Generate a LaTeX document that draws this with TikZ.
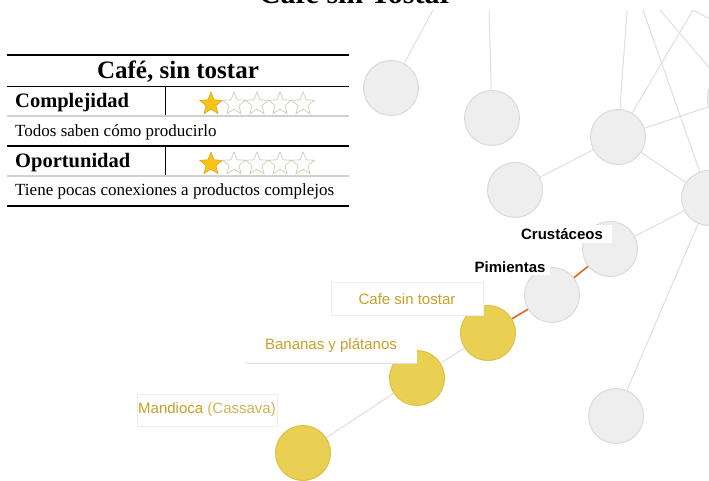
\documentclass[tikz,border=0pt]{standalone}
\usepackage{fontspec}
\setmainfont{Liberation Serif}
\newfontfamily\labelfont{Liberation Sans}
\usetikzlibrary{shapes.geometric}
\definecolor{nodegray}{RGB}{238,238,238}
\definecolor{nodeedge}{RGB}{218,218,218}
\definecolor{linkgray}{RGB}{222,222,222}
\definecolor{prodyellow}{RGB}{233,207,82}
\definecolor{prodedge}{RGB}{222,192,70}
\definecolor{labelgold}{RGB}{200,160,40}
\definecolor{pathorange}{RGB}{226,100,30}
\definecolor{stargold}{RGB}{250,195,20}
\definecolor{staredge}{RGB}{212,206,188}

\begin{document}
\begin{tikzpicture}[x=1pt,y=-1pt,
  gnode/.style={circle,draw=nodeedge,fill=nodegray,line width=1pt,minimum size=55pt,inner sep=0pt},
  ynode/.style={circle,draw=prodedge,fill=prodyellow,line width=1pt,minimum size=55pt,inner sep=0pt},
  link/.style={draw=linkgray,line width=1pt},
  hot/.style={draw=pathorange,line width=1.6pt},
  namebox/.style={fill=white,inner sep=0pt,font=\labelfont\bfseries\fontsize{15}{15}\selectfont},
  prodbox/.style={fill=white,draw=black!7,inner sep=0pt,text=labelgold,font=\labelfont\fontsize{15}{15}\selectfont},
  hardrule/.style={line width=1.5pt},
  softrule/.style={draw=black!18,line width=2pt},
  fullstar/.style={star,star points=5,star point ratio=2.3,fill=stargold,draw=stargold!80!black,minimum size=24pt,inner sep=0pt},
  emptystar/.style={star,star points=5,star point ratio=2.3,draw=staredge,line width=0.8pt,minimum size=24pt,inner sep=0pt}]
    \clip (0,0) rectangle (709,481);

    % Title (cut at the top)
    \node[anchor=base,inner sep=0pt,font=\bfseries\fontsize{30}{30}\selectfont] (title) at (356,4) {Cafe sin Tostar};

    % Info table
    \draw[hardrule] (7,55) -- (349,55);
    \node[anchor=base,inner sep=0pt,font=\bfseries\fontsize{25}{25}\selectfont] (tabhead) at (178,79) {Café, sin tostar};
    \draw[line width=0.8pt] (7,86) -- (349,86);
    \node[anchor=base west,inner sep=0pt,font=\bfseries\fontsize{20.5}{20.5}\selectfont] (cplx) at (15,108) {Complejidad};
    \draw[line width=0.8pt] (165,86) -- (165,116);
    \draw[softrule] (7,116) -- (349,116);
    \node[anchor=base west,inner sep=0pt,font=\fontsize{17}{17}\selectfont] (cplxtxt) at (15,137) {Todos saben cómo producirlo};
    \draw[hardrule] (7,146) -- (349,146);
    \node[anchor=base west,inner sep=0pt,font=\bfseries\fontsize{20.5}{20.5}\selectfont] (oppo) at (15,168) {Oportunidad};
    \draw[line width=0.8pt] (165,146) -- (165,176);
    \draw[softrule] (7,176) -- (349,176);
    \node[anchor=base west,inner sep=0pt,font=\fontsize{17}{17}\selectfont] (oppotxt) at (15,196) {Tiene pocas conexiones a productos complejos};
    \draw[hardrule] (7,206) -- (349,206);

    % Stars
    \foreach \y/\r in {104/c,164/o} {
        \node[fullstar] (\r s1) at (211,\y) {};
        \foreach \i in {2,...,5}
            \node[emptystar] (\r s\i) at ({211+23*(\i-1)},\y) {};
    }

    % Product space nodes
    \node[gnode] (na) at (391,88) {};
    \node[gnode] (nb) at (492,118) {};
    \node[gnode] (nc) at (618,137) {};
    \node[gnode] (nd) at (735,98) {};
    \node[gnode] (ne) at (515,190) {};
    \node[gnode] (nf) at (709,198) {};
    \node[gnode] (crust) at (610,249) {};
    \node[gnode] (pimi) at (552,295) {};
    \node[gnode] (nl) at (616,416) {};
    \node[ynode] (cafe) at (488,333) {};
    \node[ynode] (banana) at (417,378) {};
    \node[ynode] (mandi) at (303,453) {};

    % Ends of links leaving the picture
    \coordinate (ta) at (433,10);
    \coordinate (tb) at (489,10);
    \coordinate (tc) at (627,10);
    \coordinate (tf) at (643,10);
    \coordinate (td) at (660,10);
    \coordinate (tx) at (693,10);
    \coordinate (rx) at (712,20);

    % Links
    \draw[link] (na) -- (ta);
    \draw[link] (nb) -- (tb);
    \draw[link] (nc) -- (tc);
    \draw[link] (nf) -- (tf);
    \draw[link] (nd) -- (td);
    \draw[link] (nc) -- (tx);
    \draw[link] (tx) -- (rx);
    \draw[link] (nc) -- (nd);
    \draw[link] (nc) -- (ne);
    \draw[link] (nc) -- (nf);
    \draw[link] (crust) -- (nf);
    \draw[link] (nl) -- (nf);
    \draw[link] (mandi) -- (banana);
    \draw[link] (banana) -- (cafe);
    \draw[hot] (cafe) -- (pimi);
    \draw[hot] (pimi) -- (crust);

    % Labels
    \node[namebox,minimum width=100pt,minimum height=18pt] (crustlbl) at (562,234) {Crustáceos};
    \node[namebox,minimum width=80pt,minimum height=16pt] (pimilbl) at (510,267) {Pimientas};
    \node[prodbox,minimum width=152pt,minimum height=33pt] (cafelbl) at (407,299) {Cafe sin tostar};
    \node[prodbox,draw=none,minimum width=172pt,minimum height=33pt] (bananalbl) at (331,346) {Bananas y plátanos};
    \draw[draw=black!12] (bananalbl.south west) -- (bananalbl.south east);
    \node[prodbox,minimum width=140pt,minimum height=32pt] (mandilbl) at (207,410) {Mandioca \textcolor{labelgold!80}{(Cassava)}};
\end{tikzpicture}
\end{document}
